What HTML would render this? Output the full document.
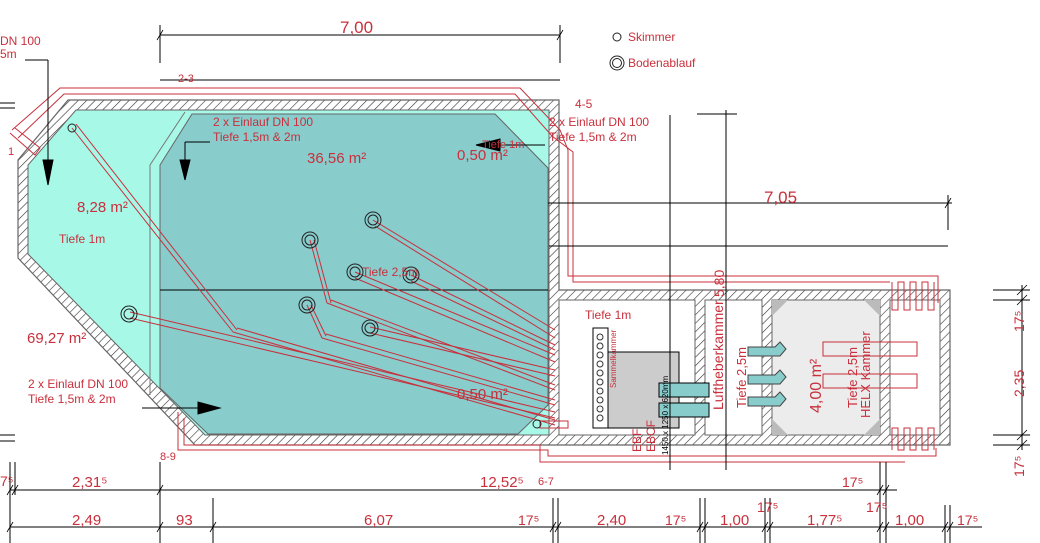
<!DOCTYPE html>
<html><head><meta charset="utf-8"><style>
body{margin:0;background:#fff;width:1040px;height:543px;overflow:hidden}
svg{display:block}
text{font-family:"Liberation Sans","DejaVu Sans",sans-serif;fill:#c8303c}
</style></head><body>
<svg width="1040" height="543" viewBox="0 0 1040 543" xmlns="http://www.w3.org/2000/svg">
<defs>
<pattern id="h" width="6" height="6" patternUnits="userSpaceOnUse" patternTransform="rotate(45)">
<rect width="6" height="6" fill="#fff"/><line x1="0" y1="0" x2="0" y2="6" stroke="#333" stroke-width="1.2"/>
</pattern>
</defs>
<polygon points="68,100 559,100 559,290 950,290 950,445 195,445 18,258 18,160" fill="url(#h)" stroke="#666" stroke-width="1.2"/>
<polygon points="76,110 549,110 549,435 205,435 28,254 28,165" fill="#a8f8e8" stroke="#666"/>
<polygon points="160,165 192,114 495,114 548,168 548,405 518,434 208,434 160,388" fill="#88cccc" stroke="#666"/>
<polyline points="150,395 150,165 185,112" fill="none" stroke="#777"/>
<line x1="160" y1="290" x2="548" y2="290" stroke="#000"/>
<rect x="559" y="300" width="136" height="135" fill="#fff" stroke="#666"/>
<rect x="705" y="300" width="57" height="135" fill="#fff" stroke="#666"/>
<rect x="772" y="300" width="108" height="135" fill="#ececec" stroke="#666"/>
<rect x="890" y="300" width="50" height="135" fill="#fff" stroke="#666"/>
<polygon points="772,300 788,300 772,316" fill="#bbb"/><polygon points="880,300 864,300 880,316" fill="#bbb"/>
<polygon points="772,435 788,435 772,419" fill="#bbb"/><polygon points="880,435 864,435 880,419" fill="#bbb"/>
<rect x="593" y="328" width="15" height="100" fill="#fff" stroke="#000"/>
<g fill="none" stroke="#333"><circle cx="600" cy="337" r="3"/><circle cx="600" cy="346" r="3"/><circle cx="600" cy="355" r="3"/><circle cx="600" cy="364" r="3"/><circle cx="600" cy="373" r="3"/><circle cx="600" cy="382" r="3"/><circle cx="600" cy="391" r="3"/><circle cx="600" cy="400" r="3"/><circle cx="600" cy="409" r="3"/><circle cx="600" cy="418" r="3"/></g>
<rect x="608" y="352" width="71" height="76" fill="#ccc" stroke="#000"/>
<rect x="659" y="383" width="50" height="14" fill="#88cccc" stroke="#000"/>
<rect x="659" y="403" width="50" height="14" fill="#88cccc" stroke="#000"/>
<g fill="#88cccc" stroke="#444"><polygon points="748,347 775,347 780,342 786,349 780,356 748,356"/><polygon points="748,375 775,375 780,370 786,377 780,384 748,384"/><polygon points="748,397 775,397 780,392 786,399 780,406 748,406"/></g>
<g fill="none" stroke="#c8303c"><rect x="823" y="342" width="94" height="14"/><rect x="823" y="374" width="94" height="14"/></g>
<g fill="none" stroke="#c8303c" stroke-width="1">
<polyline points="12,130 60,88 520,88 560,130 568,150 568,276 938,276 938,303"/>
<polyline points="18,138 64,94 515,94 552,136 573,152 573,282 890,282"/>
<polyline points="10,133 35,155 40,148 15,128"/>
<path d="M892,282v28h6v-28h6v28h6v-28h6v28h6v-28h6v28h6v-28"/>
<path d="M892,450v-22h6v22h6v-22h6v22h6v-22h6v22h6v-22h6v22"/>
<polyline points="178,412 178,450 548,450 548,456 936,456 936,448"/>
<polyline points="184,418 184,445 540,445 540,462 905,462"/>
<line x1="72" y1="128" x2="233" y2="332"/><line x1="76" y1="124" x2="237" y2="330"/>
<line x1="130" y1="312" x2="555" y2="412"/><line x1="130" y1="318" x2="555" y2="418"/>
<line x1="233" y1="332" x2="555" y2="425"/><line x1="237" y1="328" x2="555" y2="420"/>
<line x1="310" y1="240" x2="327" y2="303"/><line x1="314" y1="240" x2="331" y2="303"/>
<line x1="327" y1="303" x2="555" y2="390"/><line x1="331" y1="300" x2="555" y2="385"/>
<line x1="307" y1="305" x2="322" y2="338"/><line x1="311" y1="305" x2="326" y2="336"/>
<line x1="322" y1="338" x2="555" y2="405"/><line x1="326" y1="334" x2="555" y2="400"/>
<line x1="373" y1="220" x2="555" y2="330"/><line x1="375" y1="226" x2="555" y2="338"/>
<line x1="355" y1="272" x2="555" y2="355"/><line x1="355" y1="278" x2="555" y2="362"/>
<line x1="411" y1="275" x2="555" y2="345"/><line x1="411" y1="281" x2="555" y2="350"/>
<line x1="370" y1="327" x2="555" y2="370"/><line x1="370" y1="333" x2="555" y2="376"/>
<rect x="540" y="421" width="28" height="7"/>
</g>
<g fill="none" stroke="#222">
<circle cx="72" cy="128" r="4"/><circle cx="537" cy="424" r="4"/>
<circle cx="373" cy="220" r="8"/><circle cx="373" cy="220" r="5"/>
<circle cx="310" cy="240" r="8"/><circle cx="310" cy="240" r="5"/>
<circle cx="355" cy="272" r="8"/><circle cx="355" cy="272" r="5"/>
<circle cx="411" cy="275" r="8"/><circle cx="411" cy="275" r="5"/>
<circle cx="307" cy="305" r="8"/><circle cx="307" cy="305" r="5"/>
<circle cx="370" cy="328" r="8"/><circle cx="370" cy="328" r="5"/>
<circle cx="129" cy="314" r="8"/><circle cx="129" cy="314" r="5"/>
<circle cx="617" cy="37" r="4"/><circle cx="617" cy="63" r="7"/><circle cx="617" cy="63" r="4.5"/>
</g>
<g stroke="#000" fill="#000">
<line x1="25" y1="60" x2="48" y2="60"/><line x1="48" y1="60" x2="48" y2="170"/><polygon points="43,160 53,160 48,185"/>
<line x1="185" y1="142" x2="210" y2="142"/><line x1="185" y1="142" x2="185" y2="170"/><polygon points="180,160 190,160 185,180"/>
<line x1="142" y1="408" x2="220" y2="408"/><polygon points="198,402 198,414 220,408"/>
<line x1="480" y1="145" x2="545" y2="145"/><polygon points="476,145 500,139 500,151"/>
</g>
<g stroke="#000" fill="none">
<line x1="160" y1="35" x2="560" y2="35"/><line x1="160" y1="25" x2="160" y2="63"/><line x1="560" y1="25" x2="560" y2="63"/>
<line x1="160" y1="80" x2="560" y2="80"/>
<line x1="548" y1="203" x2="952" y2="203"/><line x1="948" y1="195" x2="948" y2="230"/>
<line x1="549" y1="246" x2="948" y2="246"/>
<line x1="670" y1="115" x2="670" y2="470"/><line x1="726" y1="110" x2="726" y2="470"/><line x1="697" y1="114" x2="737" y2="114"/>
<line x1="0" y1="103" x2="15" y2="103"/><line x1="0" y1="108" x2="15" y2="108"/><line x1="0" y1="435" x2="15" y2="435"/><line x1="0" y1="441" x2="15" y2="441"/>
<line x1="1022" y1="285" x2="1022" y2="450"/>
<line x1="993" y1="290" x2="1030" y2="290"/><line x1="993" y1="300" x2="1030" y2="300"/><line x1="993" y1="435" x2="1030" y2="435"/><line x1="993" y1="445" x2="1030" y2="445"/>
<line x1="10" y1="490" x2="897" y2="490"/><line x1="10" y1="527" x2="982" y2="527"/>
<line x1="10" y1="462" x2="10" y2="543"/><line x1="15" y1="462" x2="15" y2="495"/>
<line x1="160" y1="462" x2="160" y2="543"/><line x1="213" y1="498" x2="213" y2="543"/>
<line x1="553" y1="498" x2="553" y2="543"/><line x1="558" y1="498" x2="558" y2="543"/>
<line x1="700" y1="498" x2="700" y2="543"/><line x1="705" y1="498" x2="705" y2="543"/>
<line x1="765" y1="498" x2="765" y2="543"/><line x1="770" y1="498" x2="770" y2="543"/>
<line x1="880" y1="462" x2="880" y2="543"/><line x1="886" y1="462" x2="886" y2="543"/>
<line x1="945" y1="505" x2="945" y2="543"/><line x1="950" y1="505" x2="950" y2="543"/>
</g>
<g stroke="#000" stroke-width="0.8">
<path d="M157,40l6,-10M557,40l6,-10M945,208l6,-10M7,495l6,-10M12,495l6,-10M157,495l6,-10M877,495l6,-10M883,495l6,-10M7,532l6,-10M157,532l6,-10M210,532l6,-10M550,532l6,-10M555,532l6,-10M697,532l6,-10M702,532l6,-10M762,532l6,-10M767,532l6,-10M877,532l6,-10M883,532l6,-10M942,532l6,-10M947,532l6,-10M1017,295l10,-10M1017,305l10,-10M1017,440l10,-10M1017,450l10,-10"/>
</g>
<text x="340" y="33" font-size="17">7,00</text>
<text x="178" y="82" font-size="11">2-3</text>
<text x="628" y="41" font-size="12">Skimmer</text>
<text x="628" y="67" font-size="12">Bodenablauf</text>
<text x="0" y="45" font-size="12">DN 100</text><text x="0" y="58" font-size="12">5m</text>
<text x="8" y="155" font-size="11">1</text>
<text x="575" y="108" font-size="12">4-5</text>
<text x="213" y="126" font-size="12">2 x Einlauf DN 100</text><text x="213" y="141" font-size="12">Tiefe 1,5m &amp; 2m</text>
<text x="549" y="126" font-size="12">2 x Einlauf DN 100</text><text x="549" y="141" font-size="12">Tiefe 1,5m &amp; 2m</text>
<text x="307" y="163" font-size="15">36,56 m²</text>
<text x="457" y="160" font-size="15">0,50 m²</text>
<text x="482" y="148" font-size="11">Tiefe 1m</text>
<text x="77" y="212" font-size="15">8,28 m²</text>
<text x="59" y="243" font-size="12">Tiefe 1m</text>
<text x="362" y="276" font-size="12">Tiefe 2,5m</text>
<text x="27" y="343" font-size="15">69,27 m²</text>
<text x="28" y="388" font-size="12">2 x Einlauf DN 100</text><text x="28" y="403" font-size="12">Tiefe 1,5m &amp; 2m</text>
<text x="457" y="399" font-size="15">0,50 m²</text>
<text x="160" y="460" font-size="11">8-9</text>
<text x="764" y="203" font-size="17">7,05</text>
<text x="585" y="319" font-size="12">Tiefe 1m</text>
<text font-size="8" transform="translate(616,388) rotate(-90)">Sammelkammer</text>
<text font-size="8" style="fill:#000" transform="translate(668,455) rotate(-90)">1450 x 1250 x 620mm</text>
<text font-size="12" transform="translate(641,452) rotate(-90)">EBF</text>
<text font-size="12" transform="translate(655,452) rotate(-90)">EBCF</text>
<text font-size="14" transform="translate(723,410) rotate(-90)">Luftheberkammer</text>
<text font-size="14" transform="translate(724,297) rotate(-90)">5,80</text>
<text font-size="13" transform="translate(746,408) rotate(-90)">Tiefe 2,5m</text>
<text font-size="16" transform="translate(821,413) rotate(-90)">4,00 m²</text>
<text font-size="13" transform="translate(857,408) rotate(-90)">Tiefe 2,5m</text>
<text font-size="13" transform="translate(870,418) rotate(-90)">HELX Kammer</text>
<text font-size="14" transform="translate(1024,332) rotate(-90)">17⁵</text>
<text font-size="14" transform="translate(1024,397) rotate(-90)">2,35</text>
<text font-size="14" transform="translate(1024,477) rotate(-90)">17⁵</text>
<text x="0" y="486" font-size="14">7⁵</text>
<text x="72" y="487" font-size="15">2,31⁵</text>
<text x="480" y="487" font-size="15">12,52⁵</text><text x="538" y="485" font-size="11">6-7</text>
<text x="842" y="487" font-size="14">17⁵</text>
<text x="72" y="525" font-size="15">2,49</text>
<text x="176" y="525" font-size="15">93</text>
<text x="364" y="525" font-size="15">6,07</text>
<text x="518" y="525" font-size="14">17⁵</text>
<text x="597" y="525" font-size="15">2,40</text>
<text x="665" y="525" font-size="14">17⁵</text>
<text x="720" y="525" font-size="15">1,00</text>
<text x="757" y="512" font-size="14">17⁵</text>
<text x="807" y="525" font-size="15">1,77⁵</text>
<text x="866" y="512" font-size="14">17⁵</text>
<text x="895" y="525" font-size="15">1,00</text>
<text x="957" y="525" font-size="14">17⁵</text>
</svg>
</body></html>
